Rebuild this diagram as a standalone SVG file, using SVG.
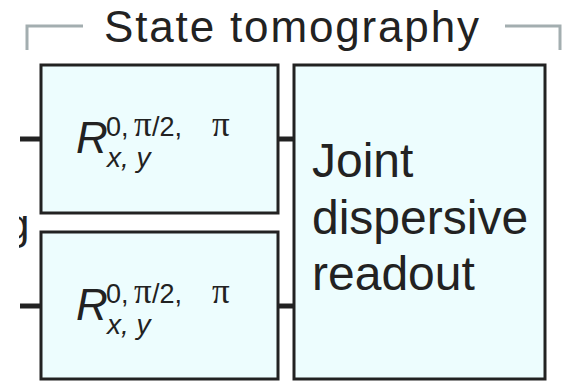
<svg xmlns="http://www.w3.org/2000/svg" width="567" height="381" viewBox="0 0 567 381">
<defs>
<style>
.box{fill:#edfdfe;stroke:#222;stroke-width:3}
.wire{stroke:#222;stroke-width:5;fill:none}
.bracket{stroke:#a3aeb0;stroke-width:3;fill:none}
.sans{font-family:"Liberation Sans",Arial,Helvetica,sans-serif;fill:#222}
.serif{font-family:"Liberation Serif","Times New Roman",serif;font-size:35px}
</style>
<clipPath id="clipg"><rect x="19" y="200" width="11" height="60"/></clipPath>
</defs>
<rect width="567" height="381" fill="#ffffff"/>
<g id="title">
<path class="bracket" d="M27,50 V26 H83"/>
<path class="bracket" d="M505,26 H560 V50"/>
<text class="sans" x="104" y="42" font-size="44" textLength="375" lengthAdjust="spacing">State tomography</text>
</g>
<g id="fragment" clip-path="url(#clipg)">
<text class="sans" x="6" y="239" font-size="42">g</text>
</g>
<g id="connectors">
<line class="wire" x1="20" y1="139" x2="41" y2="139"/>
<line class="wire" x1="277" y1="139" x2="294" y2="139"/>
<line class="wire" x1="20" y1="306" x2="41" y2="306"/>
<line class="wire" x1="277" y1="306" x2="294" y2="306"/>
</g>
<g id="rot1">
<rect class="box" x="41" y="65" width="237" height="148"/>
<text class="sans" font-size="44" font-style="italic" x="76" y="153">R</text>
<text class="sans" font-size="27" y="136"><tspan x="106">0,</tspan><tspan class="serif" x="134">π</tspan><tspan x="152">/2,</tspan><tspan class="serif" x="212">π</tspan></text>
<text class="sans" font-size="28" font-style="italic" x="107" y="167">x, y</text>
</g>
<g id="rot2">
<rect class="box" x="41" y="232" width="237" height="147"/>
<text class="sans" font-size="44" font-style="italic" x="76" y="320">R</text>
<text class="sans" font-size="27" y="303"><tspan x="106">0,</tspan><tspan class="serif" x="134">π</tspan><tspan x="152">/2,</tspan><tspan class="serif" x="212">π</tspan></text>
<text class="sans" font-size="28" font-style="italic" x="107" y="334">x, y</text>
</g>
<g id="readout">
<rect class="box" x="294" y="65" width="251" height="314"/>
<text class="sans" font-size="48" x="312"><tspan x="312" y="177">Joint</tspan><tspan x="312" y="234">dispersive</tspan><tspan x="312" y="290">readout</tspan></text>
</g>
</svg>
